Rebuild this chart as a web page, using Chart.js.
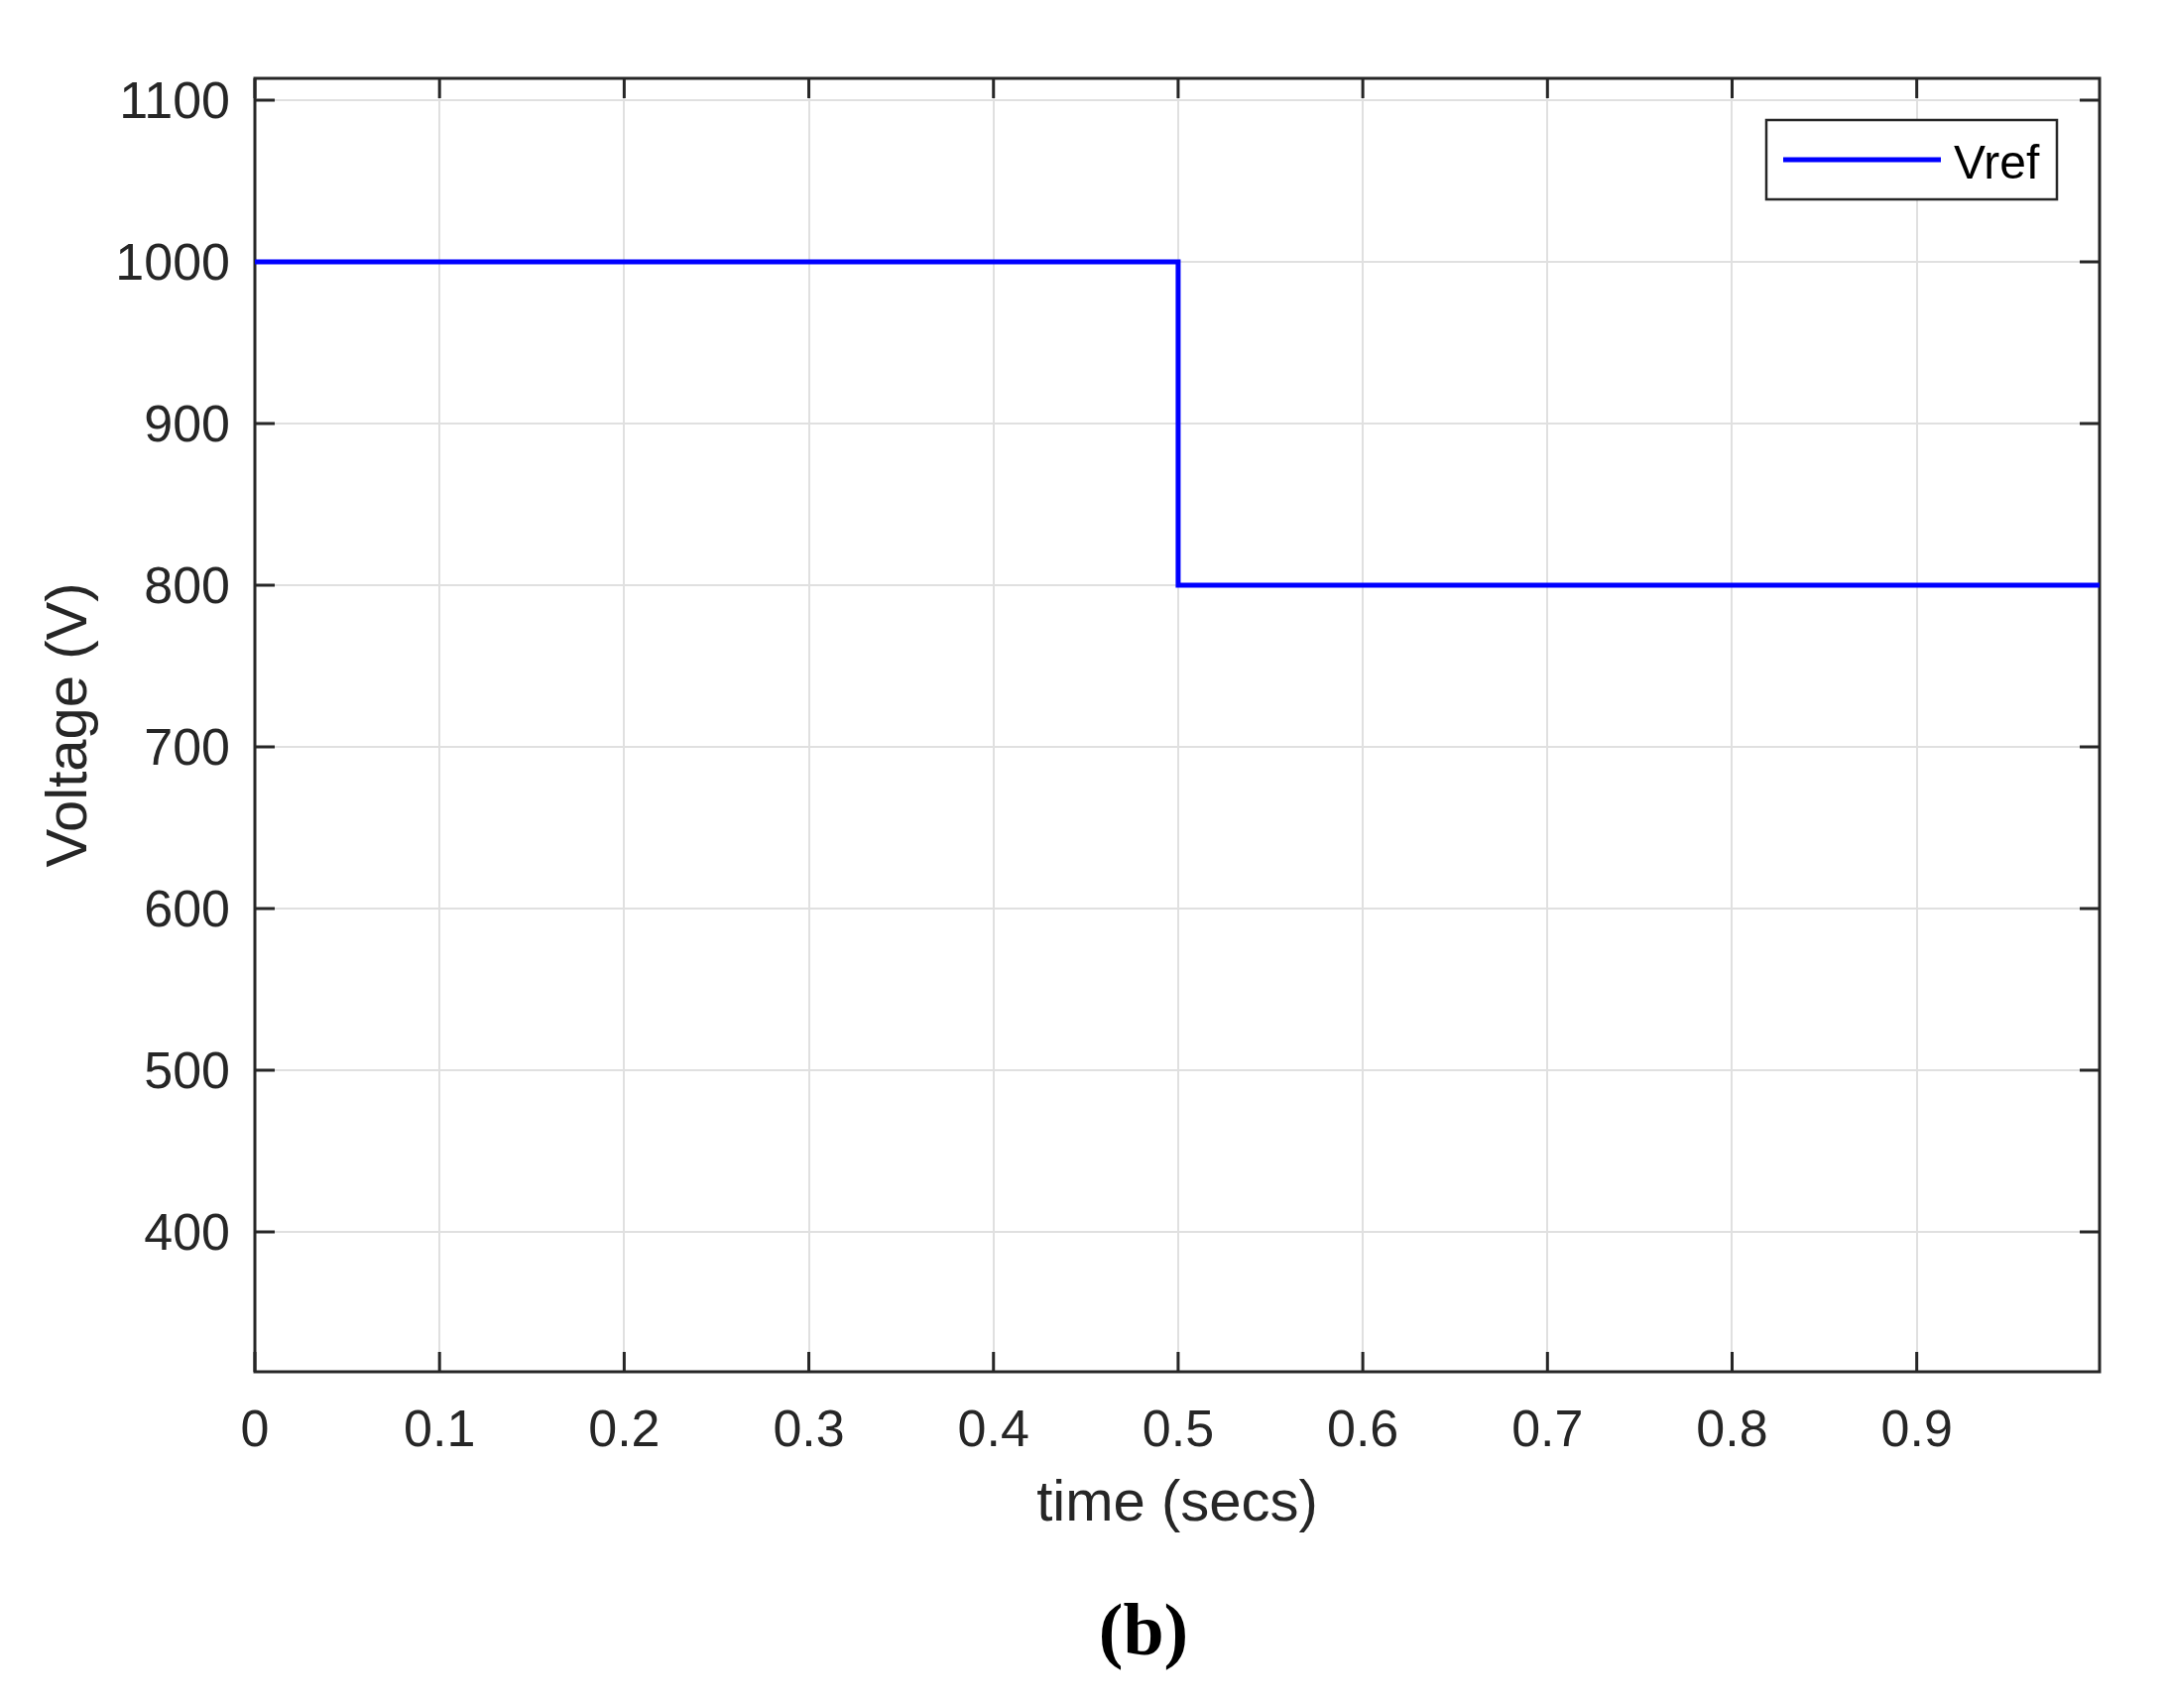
<!DOCTYPE html>
<html>
<head>
<meta charset="utf-8">
<script src="https://cdn.jsdelivr.net/npm/chart.js@4.4.1/dist/chart.umd.min.js"></script>
<style>
  html, body { margin: 0; padding: 0; background: #fff; }
  canvas { display: block; }
</style>
</head>
<body>
<canvas id="chart" width="2185" height="1722"></canvas>
<script>
// ── Data ──────────────────────────────────────────────────────────────────────
const seriesName = 'Vref';
const time  = [0, 0.5, 0.5, 1.0];        // secs
const vref  = [1000, 1000, 800, 800];    // V
const xTicks = [0, 0.1, 0.2, 0.3, 0.4, 0.5, 0.6, 0.7, 0.8, 0.9];
const yTicks = [400, 500, 600, 700, 800, 900, 1000, 1100];
const xRange = [0, 0.999];
const yRange = [313.5, 1113.5];

const FONT = "'Liberation Sans', Arial, Helvetica, sans-serif";
const AXIS = '#262626';
const GRID = '#e0e0e0';

// frame and inward ticks under the line, legend box and panel tag on top (MATLAB look)
const matlabAxes = {
    id: 'matlabAxes',
    beforeDatasetsDraw(chart) {
        const { ctx, chartArea: a, scales: { x, y } } = chart;
        const tl = 20;
        ctx.save();
        ctx.strokeStyle = AXIS;
        ctx.lineWidth = 3;
        ctx.beginPath();
        xTicks.forEach(v => {
            const px = x.getPixelForValue(v);
            ctx.moveTo(px, a.bottom); ctx.lineTo(px, a.bottom - tl);
            ctx.moveTo(px, a.top);    ctx.lineTo(px, a.top + tl);
        });
        yTicks.forEach(v => {
            const py = y.getPixelForValue(v);
            ctx.moveTo(a.left, py);  ctx.lineTo(a.left + tl, py);
            ctx.moveTo(a.right, py); ctx.lineTo(a.right - tl, py);
        });
        ctx.stroke();
        ctx.strokeRect(a.left, a.top, a.right - a.left, a.bottom - a.top);
        ctx.restore();
    },
    afterDraw(chart) {
        const { ctx, chartArea: a } = chart;
        const ds = chart.data.datasets[0];
        const lw = 293, lh = 80;
        const lx = a.right - 43 - lw, ly = a.top + 42;
        ctx.save();
        ctx.fillStyle = '#fff';
        ctx.fillRect(lx, ly, lw, lh);
        ctx.strokeStyle = AXIS;
        ctx.lineWidth = 2.5;
        ctx.strokeRect(lx, ly, lw, lh);
        ctx.strokeStyle = ds.borderColor;
        ctx.lineWidth = ds.borderWidth;
        ctx.beginPath();
        ctx.moveTo(lx + 17, ly + 40); ctx.lineTo(lx + 176, ly + 40);
        ctx.stroke();
        ctx.fillStyle = '#000';
        ctx.font = `48px ${FONT}`;
        ctx.textBaseline = 'alphabetic';
        ctx.textAlign = 'left';
        ctx.fillText(ds.label, lx + 189, ly + 59);

        // panel tag
        ctx.font = `bold 74px 'Liberation Serif', 'Times New Roman', serif`;
        ctx.textAlign = 'center';
        ctx.fillText('(b)', (a.left + a.right) / 2 - 34, a.bottom + 285);
        ctx.restore();
    }
};

new Chart(document.getElementById('chart'), {
    type: 'line',
    data: {
        datasets: [{
            label: seriesName,
            data: time.map((t, i) => ({ x: t, y: vref[i] })),
            borderColor: '#0000ff',
            borderWidth: 5,
            pointRadius: 0,
            tension: 0,
            fill: false
        }]
    },
    options: {
        responsive: false,
        animation: false,
        layout: { padding: { left: 0, top: 79, right: 68, bottom: 0 } },
        plugins: { legend: { display: false }, tooltip: { enabled: false } },
        scales: {
            x: {
                type: 'linear',
                min: xRange[0], max: xRange[1],
                afterBuildTicks: s => { s.ticks = xTicks.map(v => ({ value: v })); },
                afterFit: s => { s.height = 339; },
                ticks: { color: AXIS, font: { family: FONT, size: 52 }, padding: 29, maxRotation: 0, autoSkip: false,
                         callback: v => String(v) },
                grid: { color: GRID, lineWidth: 2, drawTicks: false },
                border: { display: false },
                title: { display: true, text: 'time (secs)', color: AXIS, font: { family: FONT, size: 58 }, padding: { bottom: 170 } }
            },
            y: {
                type: 'linear',
                min: yRange[0], max: yRange[1],
                afterBuildTicks: s => { s.ticks = yTicks.map(v => ({ value: v })); },
                afterFit: s => { s.width = 257; },
                ticks: { color: AXIS, font: { family: FONT, size: 52 }, padding: 25, labelOffset: 4,
                         callback: v => String(v) },
                grid: { color: GRID, lineWidth: 2, drawTicks: false },
                border: { display: false },
                title: { display: true, text: 'Voltage (V)', color: AXIS, font: { family: FONT, size: 58 }, padding: { top: 36 } }
            }
        }
    },
    plugins: [matlabAxes]
});
</script>
</body>
</html>
